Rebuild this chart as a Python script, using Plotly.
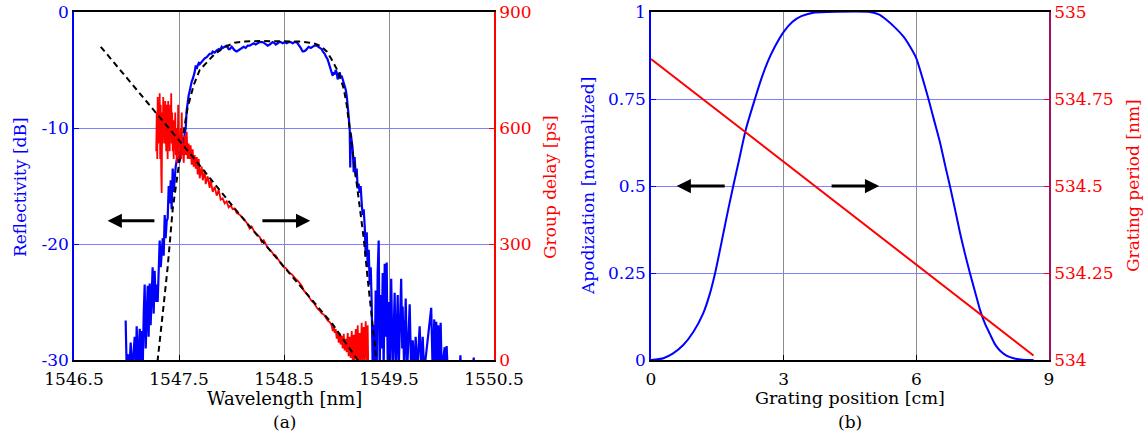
import plotly.graph_objects as go

# ---------------- (a) reflectivity / group delay ----------------
refl_wl = [1546.992, 1547.002, 1547.011, 1547.026, 1547.040, 1547.054, 1547.078, 1547.088, 1547.097, 1547.111,
           1547.126, 1547.135, 1547.145, 1547.154, 1547.164, 1547.173, 1547.183, 1547.192, 1547.202, 1547.211,
           1547.221, 1547.230, 1547.240, 1547.249, 1547.259, 1547.268, 1547.278, 1547.287, 1547.297, 1547.307,
           1547.316, 1547.326, 1547.335, 1547.345, 1547.354, 1547.364, 1547.373, 1547.383, 1547.392, 1547.402,
           1547.411, 1547.421, 1547.430, 1547.440, 1547.449, 1547.459, 1547.469, 1547.478, 1547.488, 1547.497,
           1547.507, 1547.516, 1547.526, 1547.535, 1547.545, 1547.554, 1547.564, 1547.573, 1547.583, 1547.592,
           1547.602, 1547.611, 1547.621, 1547.630, 1547.640, 1547.649, 1547.659, 1547.669, 1547.678, 1547.688,
           1547.697, 1547.716, 1547.726, 1547.745, 1547.764, 1547.783, 1547.792, 1547.811, 1547.821, 1547.840,
           1547.859, 1547.878, 1547.888, 1547.907, 1547.916, 1547.935, 1547.954, 1547.973, 1547.983, 1548.002,
           1548.011, 1548.030, 1548.050, 1548.069, 1548.078, 1548.097, 1548.116, 1548.135, 1548.154, 1548.173,
           1548.192, 1548.211, 1548.230, 1548.250, 1548.269, 1548.288, 1548.297, 1548.316, 1548.326, 1548.345,
           1548.364, 1548.383, 1548.392, 1548.411, 1548.421, 1548.440, 1548.450, 1548.469, 1548.488, 1548.507,
           1548.526, 1548.545, 1548.564, 1548.583, 1548.602, 1548.621, 1548.630, 1548.649, 1548.659, 1548.678,
           1548.688, 1548.707, 1548.726, 1548.735, 1548.754, 1548.773, 1548.792, 1548.811, 1548.830, 1548.840,
           1548.859, 1548.869, 1548.888, 1548.897, 1548.916, 1548.926, 1548.935, 1548.945, 1548.954, 1548.964,
           1548.973, 1548.983, 1548.992, 1549.002, 1549.011, 1549.021, 1549.030, 1549.040, 1549.049, 1549.059,
           1549.069, 1549.078, 1549.088, 1549.097, 1549.107, 1549.116, 1549.126, 1549.131, 1549.135, 1549.145,
           1549.154, 1549.164, 1549.173, 1549.183, 1549.192, 1549.202, 1549.211, 1549.221, 1549.230, 1549.240,
           1549.249, 1549.259, 1549.269, 1549.278, 1549.288, 1549.297, 1549.307, 1549.316, 1549.326, 1549.335,
           1549.345, 1549.354, 1549.364, 1549.373, 1549.383, 1549.392, 1549.402, 1549.411, 1549.421, 1549.430,
           1549.440, 1549.449, 1549.459, 1549.469, 1549.478, 1549.488, 1549.497, 1549.507, 1549.521, 1549.535,
           1549.545, 1549.554, 1549.564, 1549.573, 1549.583, 1549.592, 1549.602, 1549.616, 1549.626, 1549.630,
           1549.645, 1549.659, 1549.673, 1549.688, 1549.697, 1549.711, 1549.726, 1549.740, 1549.754, 1549.769,
           1549.783, 1549.792, 1549.807, 1549.821, 1549.835, 1549.902, 1549.916, 1549.931, 1549.940, 1549.950,
           1549.959, 1549.969, 1549.978, 1549.992, 1550.002, 1550.030, 1550.040, 1550.049, 1550.059, 1550.173,
           1550.180, 1550.187, 1550.297, 1550.307, 1550.316]
refl_db = [-26.6, -31, -29.5, -31, -28.5, -31, -28.0, -31, -27.1, -31,
           -27.3, -30, -27.5, -31, -26.0, -23.5, -29, -25.5, -23.6, -28,
           -23.4, -27, -24.5, -22.0, -26, -22.3, -25, -23.5, -25, -21.5,
           -19.7, -22, -20.5, -19.5, -21, -17.5, -19.5, -18.0, -17.8, -15.0,
           -16.5, -14.5, -17.0, -13.5, -15.5, -14.0, -13.3, -12.8, -12.5, -13.0,
           -12.8, -12.0, -12.2, -11.5, -11.3, -10.5, -10.0, -8.5, -7.5, -7.2,
           -6.8, -6.3, -6.0, -5.8, -5.5, -5.2, -4.6, -4.9, -4.6, -4.4,
           -4.5, -4.3, -4.1, -4.0, -3.9, -3.7, -3.6, -3.6, -3.4, -3.5,
           -3.3, -3.2, -3.3, -3.0, -3.1, -3.0, -2.9, -3.2, -3.2, -3.0,
           -3.1, -3.3, -3.4, -3.3, -3.2, -3.1, -3.0, -3.1, -2.9, -2.9,
           -2.8, -2.7, -2.8, -2.7, -2.6, -2.6, -2.6, -2.7, -2.8, -2.9,
           -2.8, -2.7, -2.6, -2.7, -2.8, -2.7, -2.6, -2.6, -2.7, -2.6,
           -2.7, -2.6, -2.6, -2.7, -2.6, -2.6, -2.7, -2.9, -3.1, -3.4,
           -3.4, -3.3, -3.1, -3.0, -3.1, -3.0, -2.9, -2.9, -3.0, -3.1,
           -3.2, -3.4, -3.6, -3.8, -4.1, -4.4, -4.7, -4.9, -5.3, -5.5,
           -5.2, -5.4, -5.0, -5.2, -5.8, -5.6, -5.2, -5.6, -5.5, -5.8,
           -6.1, -6.4, -6.7, -7.2, -8.0, -9.0, -10.2, -13.4, -10.4, -11.0,
           -11.8, -13.8, -12.5, -14.2, -13.5, -15.2, -14.8, -15.6, -15.0, -16.5,
           -17.5, -17.0, -18.5, -21.0, -19.0, -22.0, -20.5, -23.5, -22.0, -25.0,
           -31, -27, -31, -24, -31, -22.5, -19.7, -31, -24.4, -29,
           -22.5, -31, -21.7, -28, -21.6, -31, -25, -31, -23.0, -31,
           -26, -24.2, -31, -26, -24.4, -31, -27, -23.0, -29, -25.4,
           -31, -24.7, -31, -27, -25.2, -31, -28.3, -31, -28.0, -31,
           -28.5, -27.1, -31, -28.0, -31, -25.5, -31, -26.5, -31, -26.7,
           -31, -27.0, -31, -26.8, -31, -28.9, -31, -28.8, -31, -31,
           -29.6, -31, -31, -29.8, -31]

refl_fit_wl = [1547.283, 1547.297, 1547.345, 1547.392, 1547.440, 1547.488, 1547.535, 1547.583, 1547.640, 1547.697,
               1547.764, 1547.821, 1547.888, 1547.954, 1548.030, 1548.126, 1548.269, 1548.459, 1548.649, 1548.745,
               1548.802, 1548.859, 1548.907, 1548.954, 1549.002, 1549.040, 1549.069, 1549.097, 1549.126, 1549.154,
               1549.183, 1549.221, 1549.259, 1549.297, 1549.326, 1549.354, 1549.383, 1549.392]
refl_fit_db = [-31, -30, -26, -22, -17, -13.8, -10.8, -8.2, -6.3, -5.0,
               -4.4, -3.8, -3.3, -2.95, -2.65, -2.55, -2.5, -2.5, -2.55, -2.65,
               -2.75, -3.0, -3.4, -4.1, -4.9, -5.8, -6.6, -8.0, -10.0, -12.0,
               -14.0, -16.5, -19.5, -23.0, -25.5, -27.5, -30.0, -31.0]

gd_wl = [1547.283, 1547.288, 1547.293, 1547.297, 1547.302, 1547.307, 1547.312, 1547.316, 1547.321, 1547.326,
         1547.331, 1547.335, 1547.340, 1547.345, 1547.350, 1547.354, 1547.359, 1547.364, 1547.369, 1547.373,
         1547.378, 1547.383, 1547.388, 1547.392, 1547.397, 1547.402, 1547.407, 1547.411, 1547.416, 1547.421,
         1547.426, 1547.430, 1547.435, 1547.440, 1547.445, 1547.449, 1547.454, 1547.459, 1547.464, 1547.469,
         1547.473, 1547.478, 1547.483, 1547.488, 1547.492, 1547.497, 1547.502, 1547.507, 1547.516, 1547.521,
         1547.526, 1547.531, 1547.535, 1547.545, 1547.554, 1547.564, 1547.573, 1547.583, 1547.592, 1547.602,
         1547.611, 1547.621, 1547.630, 1547.640, 1547.649, 1547.659, 1547.669, 1547.678, 1547.688, 1547.697,
         1547.716, 1547.726, 1547.745, 1547.754, 1547.773, 1547.792, 1547.802, 1547.821, 1547.840, 1547.859,
         1547.878, 1547.897, 1547.916, 1547.935, 1547.954, 1547.973, 1547.992, 1548.011, 1548.030, 1548.050,
         1548.078, 1548.097, 1548.126, 1548.145, 1548.173, 1548.192, 1548.221, 1548.250, 1548.269, 1548.288,
         1548.307, 1548.326, 1548.345, 1548.364, 1548.383, 1548.402, 1548.421, 1548.440, 1548.459, 1548.478,
         1548.497, 1548.516, 1548.535, 1548.554, 1548.573, 1548.592, 1548.611, 1548.630, 1548.649, 1548.669,
         1548.688, 1548.707, 1548.726, 1548.745, 1548.764, 1548.783, 1548.802, 1548.821, 1548.840, 1548.859,
         1548.878, 1548.897, 1548.916, 1548.935, 1548.954, 1548.964, 1548.973, 1548.983, 1548.992, 1549.002,
         1549.011, 1549.021, 1549.030, 1549.040, 1549.049, 1549.059, 1549.069, 1549.078, 1549.088, 1549.097,
         1549.107, 1549.116, 1549.126, 1549.135, 1549.145, 1549.154, 1549.164, 1549.173, 1549.183, 1549.192,
         1549.202, 1549.211, 1549.221, 1549.230, 1549.240, 1549.249, 1549.259, 1549.268, 1549.278, 1549.288,
         1549.297, 1549.302]
gd_ps = [540, 640, 520, 680, 560, 650, 600, 690, 520, 660,
         480, 432, 640, 560, 680, 600, 650, 560, 670, 590,
         540, 660, 600, 520, 670, 580, 620, 540, 660, 580,
         690, 560, 640, 540, 620, 520, 600, 560, 640, 530,
         590, 510, 600, 540, 660, 520, 580, 550, 600, 520,
         640, 530, 560, 510, 580, 530, 590, 520, 560, 520,
         555, 505, 545, 500, 530, 495, 525, 480, 520, 470,
         500, 465, 490, 455, 475, 445, 465, 435, 448, 425,
         440, 415, 418, 405, 410, 395, 400, 390, 392, 380,
         376, 370, 360, 355, 340, 345, 330, 322, 318, 305,
         310, 300, 290, 285, 280, 272, 270, 262, 255, 250,
         240, 238, 232, 225, 222, 215, 210, 205, 200, 192,
         180, 175, 168, 160, 152, 148, 140, 132, 128, 120,
         118, 110, 102, 98, 90, 75, 85, 70, 80, 55,
         75, 45, 70, 40, 62, 30, 68, 25, 55, 20,
         70, 10, 60, 5, 75, 0, 65, -10, 80, 5,
         90, -10, 70, 0, 96, -10, 85, 0, 100, -10,
         90, -10]

gd_fit_wl = [1546.755, 1547.288, 1547.602, 1548.011, 1548.488, 1548.964, 1549.202, 1549.211]
gd_fit_ps = [810, 636, 535, 398, 246, 92, 0, -3]

wl_ticks = [1546.5, 1547.5, 1548.5, 1549.5, 1550.5]
wl_ticktext = ["1546.5", "1547.5", "1548.5", "1549.5", "1550.5"]
db_ticks = [-30, -20, -10, 0]
db_ticktext = ["-30", "-20", "-10", "0"]
ps_ticks = [0, 300, 600, 900]

# ---------------- (b) apodization / grating period ----------------
pos_cm = [0, 0.28, 0.50, 0.73, 0.96, 1.18, 1.33, 1.45, 1.55, 1.65,
          1.75, 1.86, 2.0, 2.15, 2.35, 2.5, 2.65, 2.8, 3.0, 3.2,
          3.4, 3.67, 4.0, 4.95, 5.15, 5.33, 5.52, 5.71, 5.86, 6.0,
          6.14, 6.27, 6.41, 6.54, 6.65, 6.76, 6.88, 6.99, 7.10, 7.21,
          7.33, 7.44, 7.55, 7.67, 7.78, 7.90, 8.05, 8.2, 8.4, 8.65]
apod = [0, 0.005, 0.019, 0.043, 0.081, 0.134, 0.19, 0.25, 0.31, 0.373,
        0.435, 0.5, 0.58, 0.665, 0.75, 0.81, 0.86, 0.90, 0.943, 0.972,
        0.988, 0.998, 1.0, 1.0, 0.993, 0.977, 0.955, 0.929, 0.9, 0.867,
        0.81, 0.752, 0.685, 0.623, 0.56, 0.5, 0.43, 0.364, 0.305, 0.251,
        0.195, 0.144, 0.105, 0.073, 0.045, 0.026, 0.012, 0.005, 0.001, 0]

period_pos = [0, 8.65]
period_nm = [534.865, 534.013]

pos_ticks = [0, 3, 6, 9]
apod_ticks = [0, 0.25, 0.5, 0.75, 1]
apod_ticktext = ["0", "0.25", "0.5", "0.75", "1"]
period_ticks = [534, 534.25, 534.5, 534.75, 535]
period_ticktext = ["534", "534.25", "534.5", "534.75", "535"]

BLUE = "#0000ff"
RED = "#ff0000"
FONT = "DejaVu Serif"
W, H = 1147, 438
TICK = 17

fig = go.Figure()
fig.add_trace(go.Scatter(x=refl_wl, y=refl_db, mode="lines", line=dict(color=BLUE, width=2.2),
                         xaxis="x", yaxis="y", showlegend=False))
fig.add_trace(go.Scatter(x=refl_fit_wl, y=refl_fit_db, mode="lines",
                         line=dict(color="black", width=2, dash="6px,4px"),
                         xaxis="x", yaxis="y", showlegend=False))
fig.add_trace(go.Scatter(x=gd_wl, y=gd_ps, mode="lines", line=dict(color=RED, width=1.8),
                         xaxis="x", yaxis="y2", showlegend=False))
fig.add_trace(go.Scatter(x=gd_fit_wl, y=gd_fit_ps, mode="lines",
                         line=dict(color="black", width=2, dash="6px,4px"),
                         xaxis="x", yaxis="y2", showlegend=False))

fig.add_trace(go.Scatter(x=pos_cm, y=apod, mode="lines",
                         line=dict(color=BLUE, width=2, shape="spline", smoothing=0.6),
                         xaxis="x2", yaxis="y3", showlegend=False))
fig.add_trace(go.Scatter(x=period_pos, y=period_nm, mode="lines", line=dict(color=RED, width=2),
                         xaxis="x2", yaxis="y4", showlegend=False))

ydom = [1 - 360 / H, 1 - 12 / H]

xcommon = dict(showline=True, linecolor="black", linewidth=1.5, mirror=True, ticks="inside", ticklen=5,
               tickcolor="black", showgrid=True, gridcolor="#8c8c8c", gridwidth=1, zeroline=False,
               tickfont=dict(family=FONT, size=TICK, color="black"), tickmode="array", automargin=False,
               ticklabelstandoff=3)

fig.update_layout(
    width=W, height=H, margin=dict(l=0, r=0, t=0, b=0, autoexpand=False),
    paper_bgcolor="white", plot_bgcolor="white",
    xaxis=dict(domain=[74 / W, 494 / W], range=[1546.5, 1550.5], anchor="y",
               tickvals=wl_ticks, ticktext=wl_ticktext, **xcommon),
    yaxis=dict(domain=ydom, range=[-30, 0], anchor="x", showline=True, linecolor=BLUE, linewidth=1.5,
               ticks="inside", ticklen=5, tickcolor=BLUE, showgrid=True, gridcolor="#8080ff", gridwidth=1,
               zeroline=False, tickmode="array", tickvals=db_ticks, ticktext=db_ticktext, automargin=False,
               tickfont=dict(family=FONT, size=TICK, color=BLUE)),
    yaxis2=dict(domain=ydom, range=[0, 900], anchor="x", overlaying="y", side="right", showline=True,
                linecolor=RED, linewidth=1.5, ticks="inside", ticklen=5, tickcolor=RED, showgrid=False,
                zeroline=False, tickmode="array", tickvals=ps_ticks, automargin=False,
                tickfont=dict(family=FONT, size=TICK, color=RED)),
    xaxis2=dict(domain=[651 / W, 1049 / W], range=[0, 9], anchor="y3",
                tickvals=pos_ticks, **xcommon),
    yaxis3=dict(domain=ydom, range=[0, 1], anchor="x2", showline=True, linecolor=BLUE, linewidth=1.5,
                ticks="inside", ticklen=5, tickcolor=BLUE, showgrid=True, gridcolor="#8080ff", gridwidth=1,
                zeroline=False, tickmode="array", tickvals=apod_ticks, ticktext=apod_ticktext, automargin=False,
                tickfont=dict(family=FONT, size=TICK, color=BLUE)),
    yaxis4=dict(domain=ydom, range=[534, 535], anchor="x2", overlaying="y3", side="right", showline=True,
                linecolor="#a01060", linewidth=1.5, ticks="inside", ticklen=5, tickcolor=RED, showgrid=False,
                zeroline=False, tickmode="array", tickvals=period_ticks, ticktext=period_ticktext,
                automargin=False, tickfont=dict(family=FONT, size=TICK, color=RED)),
)

def ann(text, px, py, color="black", angle=0, size=17):
    fig.add_annotation(text=text, x=px / W, y=1 - py / H, xref="paper", yref="paper",
                       showarrow=False, textangle=angle, xanchor="center", yanchor="middle",
                       font=dict(family=FONT, size=size, color=color))

ann("Wavelength [nm]", 284, 398, size=18)
ann("(a)", 284, 422)
ann("Grating position [cm]", 850, 398, size=17.5)
ann("(b)", 850, 422)
ann("Reflectivity [dB]", 20, 187, BLUE, -90)
ann("Group delay [ps]", 550, 187, RED, -90)
ann("Apodization [normalized]", 588, 186, BLUE, -90)
ann("Grating period [nm]", 1133, 186, RED, -90)

def arrow(xref, yref, head, tail, y):
    fig.add_annotation(x=head, y=y, ax=tail, ay=y, xref=xref, yref=yref, axref=xref, ayref=yref,
                       text="", showarrow=True, arrowhead=2, arrowsize=0.95, arrowwidth=3,
                       arrowcolor="black", standoff=0)

arrow("x", "y", 1546.82, 1547.28, -18)
arrow("x", "y", 1548.75, 1548.28, -18)
arrow("x2", "y3", 0.58, 1.70, 0.5)
arrow("x2", "y3", 5.16, 4.05, 0.5)

fig.write_html("out.html")
